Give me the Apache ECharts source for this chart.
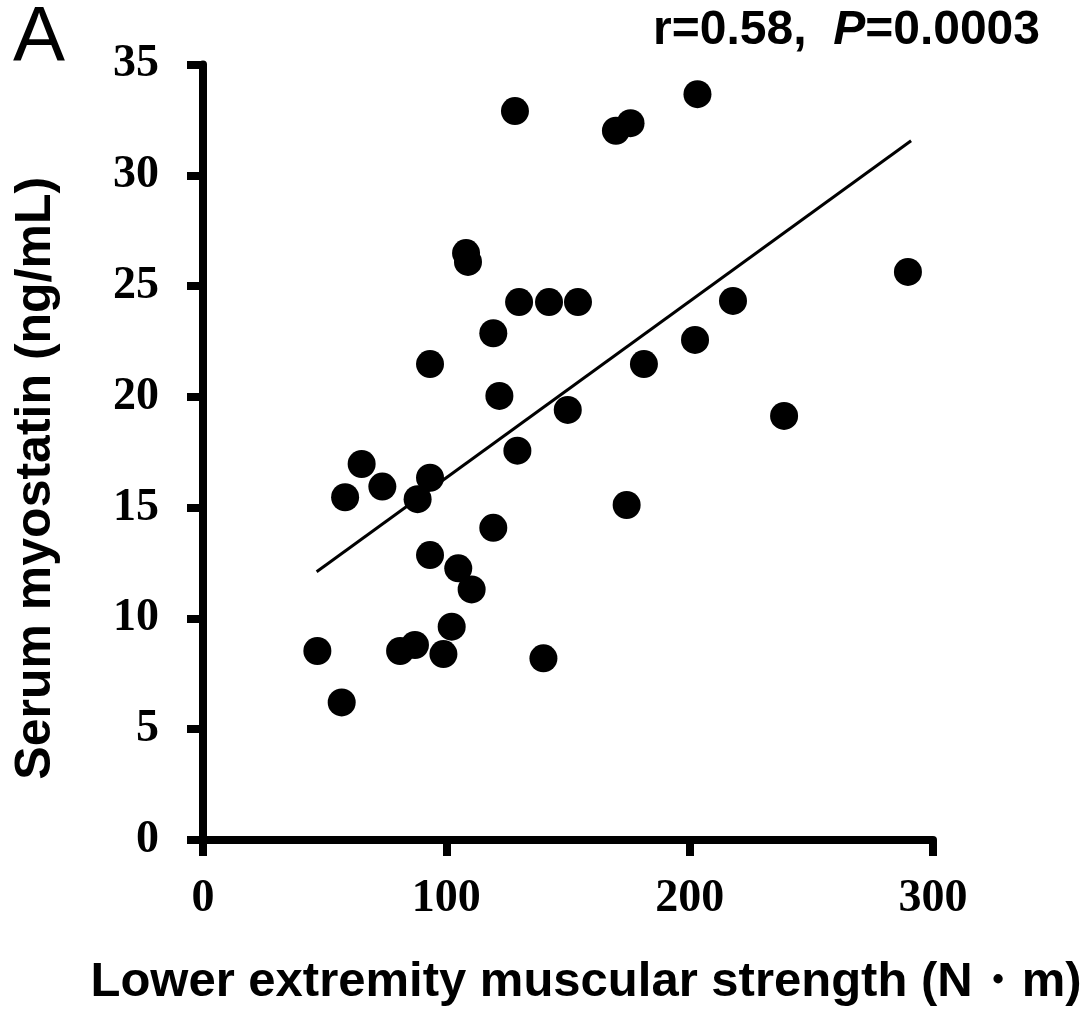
<!DOCTYPE html>
<html>
<head>
<meta charset="utf-8">
<script src="https://cdn.jsdelivr.net/npm/echarts@6/dist/echarts.min.js"></script>
<style>
  html, body { margin: 0; padding: 0; background: #fff; }
  #main { width: 1090px; height: 1009px; }
</style>
</head>
<body>
<div id="main"></div>
<script>
// strength (N·m) and myostatin (ng/mL)
var strength = [47.0, 57.0, 58.4, 65.2, 73.7, 81.0, 87.1, 88.2, 93.3, 93.3, 93.3, 98.8,
    102.2, 104.9, 110.4, 108.1, 108.9, 119.3, 119.3, 121.8, 128.2, 129.2, 129.9, 149.9,
    139.9, 142.2, 154.1, 169.7, 175.7, 174.1, 181.2, 203.2, 202.2, 217.8, 238.8, 289.7];
var myostatin = [8.53, 6.21, 15.47, 16.97, 15.95, 8.53, 8.80, 15.38, 16.35, 12.86, 21.48, 8.39,
    9.63, 12.26, 11.31, 26.49, 26.09, 22.87, 14.09, 20.04, 32.90, 17.57, 24.28, 19.41,
    8.20, 24.28, 24.28, 32.01, 32.35, 15.12, 21.48, 33.66, 22.57, 24.33, 19.14, 25.64];

// regression line end points
var fitX = [46.7, 291.0];
var fitY = [12.11, 31.56];

var xTicks = [0, 100, 200, 300];
var yTicks = [0, 5, 10, 15, 20, 25, 30, 35];

var points = strength.map(function (v, i) { return [v, myostatin[i]]; });
var fitLine = fitX.map(function (v, i) { return [v, fitY[i]]; });

var chart = echarts.init(document.getElementById('main'));

chart.setOption({
    animation: false,
    title: [{
        text: 'A',
        left: 13,
        top: 0,
        padding: 0,
        textStyle: { fontFamily: 'Liberation Sans', fontWeight: 'normal', fontSize: 78, color: '#000' }
    }, {
        text: '{a|r=0.58,  }{b|P}{a|=0.0003}',
        right: 50,
        top: 7,
        padding: 0,
        textStyle: {
            rich: {
                a: { fontFamily: 'Liberation Sans', fontWeight: 'bold', fontSize: 48, color: '#000' },
                b: { fontFamily: 'Liberation Sans', fontWeight: 'bold', fontStyle: 'italic', fontSize: 48, color: '#000' }
            }
        }
    }],
    grid: {
        left: 203,
        right: 157,
        top: 64.5,
        bottom: 169,
        outerBoundsMode: 'none'
    },
    xAxis: {
        type: 'value',
        min: xTicks[0],
        max: xTicks[xTicks.length - 1],
        interval: 100,
        name: 'Lower extremity muscular strength (N\u30fbm)',
        nameLocation: 'middle',
        nameGap: 118,
        nameTextStyle: {
            fontFamily: 'Liberation Sans', fontWeight: 'bold', fontSize: 49, color: '#000',
            padding: [0, 0, 0, 36]
        },
        splitLine: { show: false },
        axisLine: { lineStyle: { color: '#000', width: 8 } },
        axisTick: { length: 16, lineStyle: { color: '#000', width: 8 } },
        axisLabel: { margin: 36, fontFamily: 'Liberation Serif', fontWeight: 'bold', fontSize: 46, color: '#000' }
    },
    yAxis: {
        type: 'value',
        min: yTicks[0],
        max: yTicks[yTicks.length - 1],
        interval: 5,
        name: 'Serum myostatin (ng/mL)',
        nameLocation: 'middle',
        nameGap: 142,
        nameTextStyle: {
            fontFamily: 'Liberation Sans', fontWeight: 'bold', fontSize: 50, color: '#000',
            padding: [0, 52, 0, 0]
        },
        splitLine: { show: false },
        axisLine: { lineStyle: { color: '#000', width: 8 } },
        axisTick: { length: 16, lineStyle: { color: '#000', width: 8 } },
        axisLabel: { margin: 44, fontFamily: 'Liberation Serif', fontWeight: 'bold', fontSize: 46, color: '#000' }
    },
    series: [{
        type: 'line',
        data: fitLine,
        showSymbol: false,
        lineStyle: { color: '#000', width: 3 },
        z: 1
    }, {
        type: 'scatter',
        data: points,
        symbol: 'circle',
        symbolSize: 28,
        itemStyle: { color: '#000', opacity: 1 },
        z: 2
    }]
});
</script>
</body>
</html>
